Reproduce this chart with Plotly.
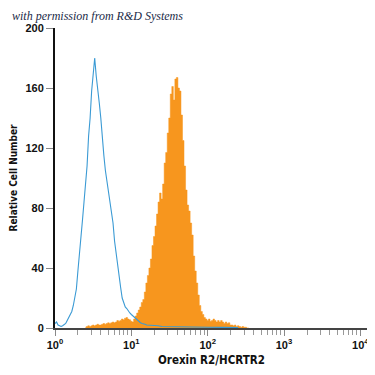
import plotly.graph_objects as go

# log10 fluorescence bin centres and counts
orange_log = [0.40,0.42,0.44,0.46,0.48,0.50,0.52,0.54,0.56,0.58,0.60,0.62,0.64,0.66,0.68,0.70,0.72,0.74,0.76,0.78,
              0.80,0.82,0.84,0.86,0.88,0.90,0.92,0.94,0.96,0.98,1.00,1.02,1.04,1.06,1.08,1.10,1.12,1.14,1.16,1.18,
              1.20,1.22,1.24,1.26,1.28,1.30,1.32,1.34,1.36,1.38,1.40,1.42,1.44,1.46,1.48,1.50,1.52,1.54,1.56,1.58,
              1.60,1.62,1.64,1.66,1.68,1.70,1.72,1.74,1.76,1.78,1.80,1.82,1.84,1.86,1.88,1.90,1.92,1.94,1.96,1.98,
              2.00,2.02,2.04,2.06,2.08,2.10,2.12,2.14,2.16,2.18,2.20,2.22,2.24,2.26,2.28,2.30,2.32,2.34,2.36,2.38,
              2.40,2.42,2.44,2.46,2.48,2.50,2.52,2.54]
orange_count = [0.5,1,1.5,1,1.5,2,1.5,2,2.5,2,2,2.5,3,2.5,3,3.5,3,3.5,4,3.5,
                4,5,4.5,5,6,5.5,6.5,7,6,5.5,4.5,4,6,8,10,12,14,17,19,24,
                30,35,40,46,55,61,68,76,84,90,86,96,110,117,130,140,156,161,152,166,
                167,160,158,142,125,108,92,82,78,70,62,48,38,30,22,15,11,9,7,6,
                5,6,4.5,5,6,5,4,5,4,5,4,3,4,3,3.5,2,2,1.5,2,1,
                1.5,1,0.5,1,0.5,0.5,0,0]

blue_log = [0.00,0.02,0.04,0.06,0.08,0.10,0.12,0.14,0.16,0.18,0.20,0.22,0.24,0.26,0.28,0.30,0.32,0.34,0.36,0.38,
            0.40,0.42,0.44,0.46,0.48,0.50,0.52,0.54,0.56,0.58,0.60,0.62,0.64,0.66,0.68,0.70,0.72,0.74,0.76,0.78,
            0.80,0.82,0.84,0.86,0.88,0.90,0.92,0.94,0.96,0.98,1.00,1.02,1.04,1.06,1.08,1.10,1.12,1.14,1.16,1.18,
            1.20,1.25,1.30,1.35,1.40,1.45,1.50,1.60,1.80,2.00,2.20,2.40]
blue_count = [3,4,2,1.5,1,1.5,2,3,5,7,9,11,15,20,26,38,48,60,72,84,
              95,108,128,140,158,172,180,168,160,150,140,125,115,105,98,93,86,76,70,58,
              50,40,32,27,20,16,14,13,11,10,9,8,7,6,5,4,3.5,3,3,2.5,
              2,2,1.5,1.5,1,1,1,0.8,0.6,0.5,0.4,0.3]

x_tickvals = [1, 10, 100, 1000, 10000]
x_ticktext = ["<b>10<sup>0</sup></b>", "<b>10<sup>1</sup></b>", "<b>10<sup>2</sup></b>",
              "<b>10<sup>3</sup></b>", "<b>10<sup>4</sup></b>"]
y_tickvals = [0, 40, 80, 120, 160, 200]

fig = go.Figure()
fig.add_trace(go.Scatter(
    x=[10 ** v for v in orange_log], y=orange_count, mode="lines",
    line=dict(color="#F7961E", width=0.5, shape="hvh"),
    fill="tozeroy", fillcolor="#F7961E", hoverinfo="skip"))
fig.add_trace(go.Scatter(
    x=[10 ** v for v in blue_log], y=blue_count, mode="lines",
    line=dict(color="#3A9AD4", width=1.1), hoverinfo="skip"))

# page body has an 8px margin, so the figure is 367px and its margins are reduced by 8
fig.update_layout(
    width=367, height=367, showlegend=False,
    margin=dict(l=47, r=7, t=20, b=47),
    paper_bgcolor="white", plot_bgcolor="white",
    font=dict(family="Arial, Liberation Sans, sans-serif", color="#111"),
    xaxis=dict(type="log", range=[0, 4.1], tickvals=x_tickvals, ticktext=x_ticktext, automargin=False,
               ticks="outside", ticklen=6, tickcolor="#888", tickwidth=1,
               showline=True, linecolor="#444", linewidth=1.5, showgrid=False, zeroline=False,
               minor=dict(ticks="outside", ticklen=5, tickcolor="#999", dtick="D1", showgrid=False),
               tickfont=dict(size=11, family="Arial, Liberation Sans", color="#111"),
               title=dict(text="<b>Orexin R2/HCRTR2</b>", standoff=6,
                          font=dict(size=11.5, family="DejaVu Sans Condensed, sans-serif", color="#111"))),
    yaxis=dict(range=[0, 200], tickvals=y_tickvals, ticktext=["<b>%d</b>" % v for v in y_tickvals], automargin=False,
               ticks="outside", ticklen=7, tickcolor="#888", tickwidth=1,
               showline=True, linecolor="#111", linewidth=2, showgrid=False, zeroline=False,
               tickfont=dict(size=11, family="Arial, Liberation Sans", color="#111"),
               title=dict(text="<b>Relative Cell Number</b>", standoff=7,
                          font=dict(size=10, family="DejaVu Sans Condensed, sans-serif", color="#111"))),
    annotations=[dict(text="<i>with permission from R&amp;D Systems</i>", xref="paper", yref="paper",
                      x=-0.144, y=1.01, xanchor="left", yanchor="bottom", showarrow=False,
                      font=dict(size=12, family="Liberation Serif, DejaVu Serif, serif", color="#1b2a48"))]
)
fig.write_html("out.html")
